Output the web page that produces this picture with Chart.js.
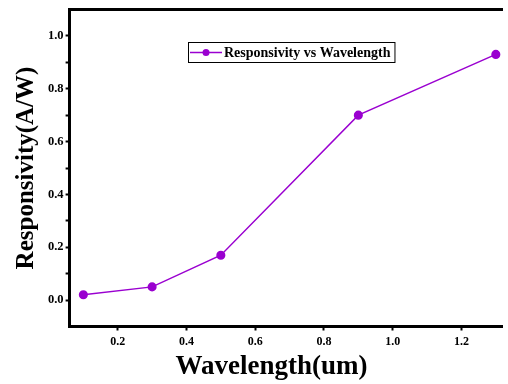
<!DOCTYPE html>
<html>
<head>
<meta charset="utf-8">
<script src="https://cdn.jsdelivr.net/npm/chart.js@4.4.0/dist/chart.umd.min.js"></script>
<style>
    html, body { margin: 0; padding: 0; background: #fff; overflow: hidden; }
    #wrap { width: 508px; height: 384px; position: relative; }
</style>
</head>
<body>
<div id="wrap"><canvas id="grafico"></canvas></div>
<script>
// Dados
const wavelengths = [0.1, 0.3, 0.5, 0.9, 1.3];
const responsivity = [0.02, 0.05, 0.17, 0.70, 0.93];
const xTicks = [0.2, 0.4, 0.6, 0.8, 1.0, 1.2];
const yTicks = [0.0, 0.2, 0.4, 0.6, 0.8, 1.0];
const yMinorTicks = [0.1, 0.3, 0.5, 0.7, 0.9];
const seriesLabel = 'Responsivity vs Wavelength';
const xTitle = 'Wavelength(um)';
const yTitle = 'Responsivity(A/W)';

const purple = '#9A00D0';
const serif = "'Liberation Serif', 'Times New Roman', serif";

// Título do eixo X e legenda com caixa (desenhados à mão)
const extras = {
    id: 'extras',
    afterDraw(chart) {
        const ctx = chart.ctx;
        ctx.save();

        // legenda
        ctx.font = 'bold 14px ' + serif;
        const label = chart.data.datasets[0].label;
        const tw = ctx.measureText(label).width;
        const bx = 188, by = 42, bh = 20;
        const bw = 36 + tw + 4;
        ctx.fillStyle = '#fff';
        ctx.fillRect(bx, by, bw, bh);
        ctx.strokeStyle = '#000';
        ctx.lineWidth = 1;
        ctx.strokeRect(bx + 0.5, by + 0.5, bw, bh);
        ctx.strokeStyle = purple;
        ctx.lineWidth = 1.5;
        ctx.beginPath();
        ctx.moveTo(bx + 2, by + 10.5);
        ctx.lineTo(bx + 34, by + 10.5);
        ctx.stroke();
        ctx.fillStyle = purple;
        ctx.beginPath();
        ctx.arc(bx + 18, by + 10.5, 3.5, 0, Math.PI * 2);
        ctx.fill();
        ctx.fillStyle = '#000';
        ctx.textBaseline = 'middle';
        ctx.textAlign = 'left';
        ctx.fillText(label, bx + 36, by + 11);

        // título do eixo X
        ctx.font = 'bold 27px ' + serif;
        ctx.textAlign = 'center';
        ctx.fillText(xTitle, 271.5, 367);
        ctx.restore();
    }
};

const ctx = document.getElementById('grafico').getContext('2d');
new Chart(ctx, {
    type: 'line',
    data: {
        datasets: [{
            label: seriesLabel,
            data: wavelengths.map((w, i) => ({ x: w, y: responsivity[i] })),
            borderColor: purple,
            backgroundColor: purple,
            borderWidth: 1.5,
            pointRadius: 3.8,
            pointHoverRadius: 3.8,
            tension: 0,
            clip: false
        }]
    },
    options: {
        responsive: true,
        maintainAspectRatio: false,
        animation: false,
        events: [],
        layout: { padding: { left: 0, right: 0, top: 8, bottom: 0 } },
        plugins: {
            legend: { display: false },
            tooltip: { enabled: false }
        },
        scales: {
            x: {
                type: 'linear',
                position: 'bottom',
                min: 0.06,
                max: 1.32,
                afterBuildTicks: scale => { scale.ticks = xTicks.map(v => ({ value: v })); },
                afterFit: scale => { scale.height = 57.5; },
                border: { display: true, color: '#000', width: 3 },
                grid: { drawOnChartArea: false, drawTicks: true, tickLength: 4, tickWidth: 2, tickColor: '#000' },
                ticks: {
                    color: '#000',
                    padding: 4,
                    font: { family: serif, size: 12, weight: 'bold' },
                    callback: v => v.toFixed(1)
                }
            },
            x2: {
                type: 'linear',
                position: 'top',
                min: 0.06,
                max: 1.32,
                afterFit: scale => { scale.height = 0; },
                border: { display: true, color: '#000', width: 3 },
                grid: { display: false },
                ticks: { display: false }
            },
            y: {
                type: 'linear',
                min: -0.1,
                max: 1.1,
                afterBuildTicks: scale => {
                    scale.ticks = yTicks.concat(yMinorTicks).sort((a, b) => a - b).map(v => ({ value: v }));
                },
                afterFit: scale => { scale.width = 69.6; },
                border: { display: true, color: '#000', width: 3 },
                grid: {
                    drawOnChartArea: false,
                    drawTicks: true,
                    tickLength: 4,
                    tickWidth: 2,
                    tickColor: '#000'
                },
                ticks: {
                    color: '#000',
                    padding: 2,
                    font: { family: serif, size: 12.5, weight: 'bold' },
                    callback: v => (yTicks.includes(v) ? v.toFixed(1) : '')
                },
                title: {
                    display: true,
                    text: yTitle,
                    color: '#000',
                    padding: { top: 12, bottom: 0 },
                    font: { family: serif, size: 25, weight: 'bold' }
                }
            }
        }
    },
    plugins: [extras]
});
</script>
</body>
</html>
